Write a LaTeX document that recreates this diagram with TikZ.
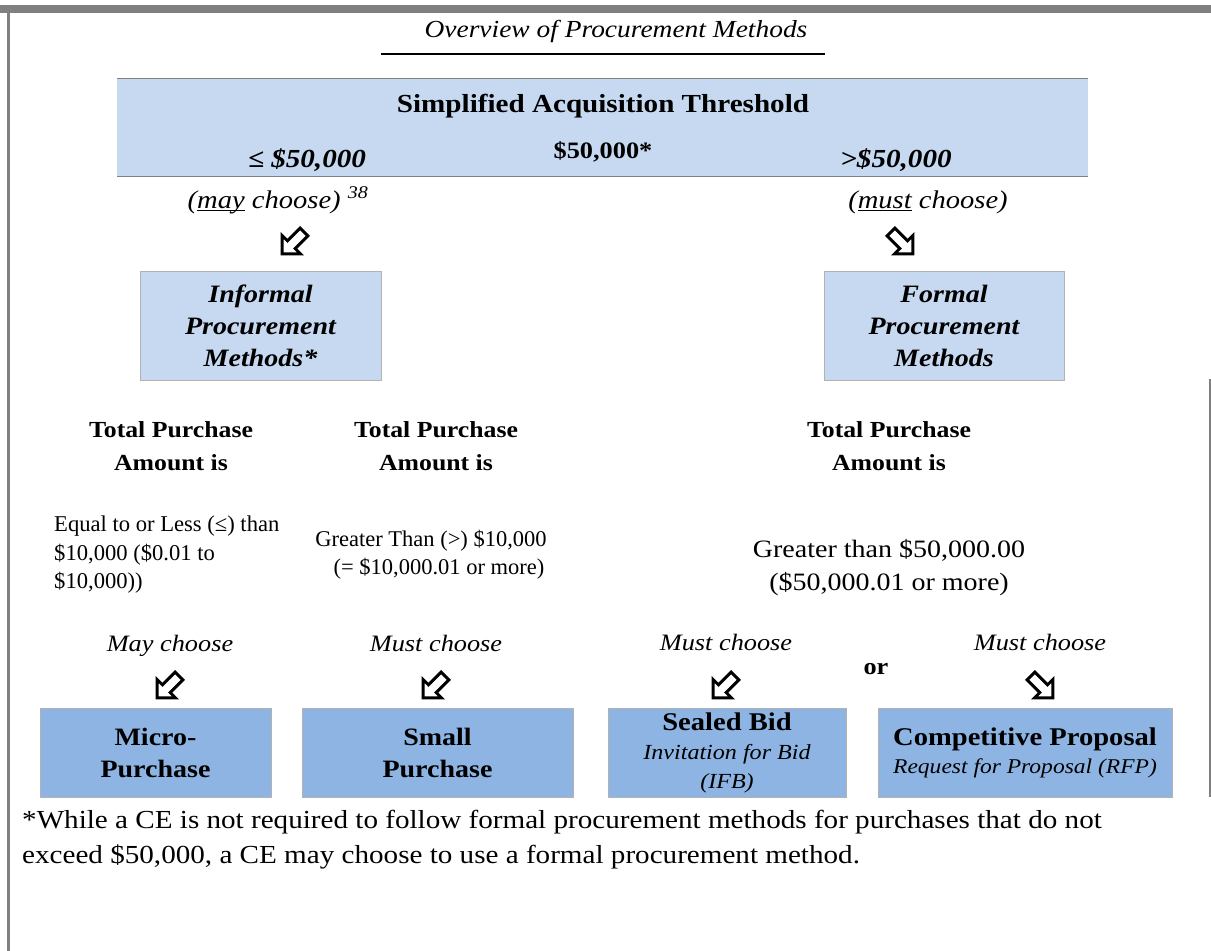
\documentclass[tikz,border=0pt]{standalone}
\usepackage{fontspec}
\setmainfont{Liberation Serif}[FakeStretch=1.12]
\newfontfamily\narrowserif{Liberation Serif}

\definecolor{bandblue}{RGB}{198,217,241}
\definecolor{methodblue}{RGB}{141,180,226}
\definecolor{framegray}{RGB}{128,128,128}
\definecolor{edgegray}{RGB}{178,178,178}

\newcommand{\fsz}[2]{\fontsize{#1}{#2}\selectfont}
% underline that sits just under the baseline
\newcommand{\ulword}[1]{\setbox0=\hbox{#1}\rlap{\rule[-3pt]{\wd0}{1.3pt}}\box0\relax}

\tikzset{
  txt/.style={inner sep=0pt, text=black, align=center},
  bandbox/.style={fill=bandblue, draw=none, inner sep=0pt},
  bandrule/.style={draw=framegray, line width=1.3pt},
  methodbox/.style={fill=bandblue, draw=edgegray, line width=0.9pt, inner sep=0pt,
    align=center, font=\fsz{25}{32}\bfseries\itshape},
  choicebox/.style={fill=methodblue, draw=edgegray, line width=0.9pt, inner sep=0pt,
    align=center, minimum height=89pt},
  amountlbl/.style={txt, font=\fsz{23}{33}\bfseries},
  choicelbl/.style={txt, anchor=base, font=\fsz{23.5}{28}\itshape},
  hollowarrow/.pic={
    \draw[line width=2.9pt, line join=miter, fill=white]
      (-12.9,12.9) -- (5.48,12.9) -- (0.18,7.6) -- (12.91,-5.13)
      -- (5.13,-12.91) -- (-7.6,-0.18) -- (-12.9,-5.48) -- cycle;
  }
}

\begin{document}
\begin{tikzpicture}[x=1pt,y=-1pt]
\useasboundingbox (0,0) rectangle (1211,951);
\fill[white] (0,0) rectangle (1211,951);

% page frame
\fill[framegray] (0,5) rectangle (1211,13);
\fill[framegray] (7,5) rectangle (10,951);
\fill[framegray] (1209.4,379) rectangle (1211,797);

% title
\node[txt, anchor=base, font=\fsz{24.5}{28}\itshape] (title) at (616,37) {Overview of Procurement Methods};
\coordinate (ulL) at (381,54);
\coordinate (ulR) at (825,54);
\draw[line width=1.5pt] (ulL) -- (ulR);

% threshold band
\node[bandbox, minimum width=971pt, minimum height=97pt] (band) at (602.5,127.5) {};
\draw[bandrule] (band.north west) -- (band.north east);
\draw[bandrule] (band.south west) -- (band.south east);
\node[txt, anchor=base, font=\fsz{26}{30}\bfseries] (sat) at (603,112) {Simplified Acquisition Threshold};
\node[txt, anchor=base, font=\fsz{23.5}{28}\bfseries] (satval) at (603,158) {\$50,000*};
\node[txt, anchor=base, font=\fsz{26}{30}\bfseries\itshape] (low) at (307,167) {≤ \$50,000};
\node[txt, anchor=base, font=\fsz{26}{30}\bfseries\itshape] (high) at (896,167) {>\$50,000};

\node[txt, anchor=base, font=\fsz{25.5}{30}\itshape] (mayc) at (278,208) {(\ulword{may} choose) \textsuperscript{38}};
\node[txt, anchor=base, font=\fsz{25.5}{30}\itshape] (mustc) at (928,208) {(\ulword{must} choose)};

\pic at (295,241) {hollowarrow};
\pic[xscale=-1] at (900,241) {hollowarrow};

% method groups
\node[methodbox, minimum width=241pt, minimum height=109pt] (informal) at (260.5,325.5) {Informal\\Procurement\\Methods*};
\node[methodbox, minimum width=240pt, minimum height=109pt] (formal) at (944,325.5) {Formal\\Procurement\\Methods};

% amounts
\node[amountlbl] (amt1) at (171,446) {Total Purchase\\Amount is};
\node[amountlbl] (amt2) at (436,446) {Total Purchase\\Amount is};
\node[amountlbl] (amt3) at (889,446) {Total Purchase\\Amount is};

\node[txt, align=left, anchor=west, font=\narrowserif\fsz{22.6}{28.5}] (range1) at (54,555)
  {Equal to or Less (≤) than\\\$10,000 (\$0.01 to\\\$10,000))};
\node[txt, font=\narrowserif\fsz{22.5}{28}] (range2) at (431,555)
  {Greater Than (>) \$10,000\\\hspace*{16pt}(= \$10,000.01 or more)};
\node[txt, font=\fsz{25}{33}] (range3) at (889,568)
  {Greater than \$50,000.00\\(\$50,000.01 or more)};

% choices
\node[choicelbl] (ch1) at (170,651) {May choose};
\node[choicelbl] (ch2) at (436,651) {Must choose};
\node[choicelbl] (ch3) at (726,650) {Must choose};
\node[choicelbl] (ch4) at (1040,650) {Must choose};
\node[txt, anchor=base, font=\fsz{23.5}{28}\bfseries] (orword) at (876,674) {or};

\pic at (170,685) {hollowarrow};
\pic at (436,685) {hollowarrow};
\pic at (726,685) {hollowarrow};
\pic[xscale=-1] at (1040,685) {hollowarrow};

% procurement methods
\node[choicebox, minimum width=231pt, font=\fsz{25}{32}\bfseries] (micro) at (155.5,752.5) {Micro-\\Purchase};
\node[choicebox, minimum width=271pt, font=\fsz{25}{32}\bfseries] (small) at (437.5,752.5) {Small\\Purchase};
\node[choicebox, minimum width=238pt, font=\fsz{21.5}{29}] (sealed) at (727,752.5)
  {\textbf{\fontsize{25.5}{29}\selectfont Sealed Bid}\\\textit{Invitation for Bid}\\\textit{(IFB)}};
\node[choicebox, minimum width=294pt, font=\fsz{21}{28}] (compet) at (1025,752.5)
  {\textbf{\fontsize{25.5}{28}\selectfont Competitive Proposal}\\\textit{Request for Proposal (RFP)}};

% footnote
\node[txt, align=left, anchor=west, font=\fsz{26}{35}] (note) at (22,840)
  {*While a CE is not required to follow formal procurement methods for purchases that do not\\exceed \$50,000, a CE may choose to use a formal procurement method.};
\end{tikzpicture}
\end{document}
